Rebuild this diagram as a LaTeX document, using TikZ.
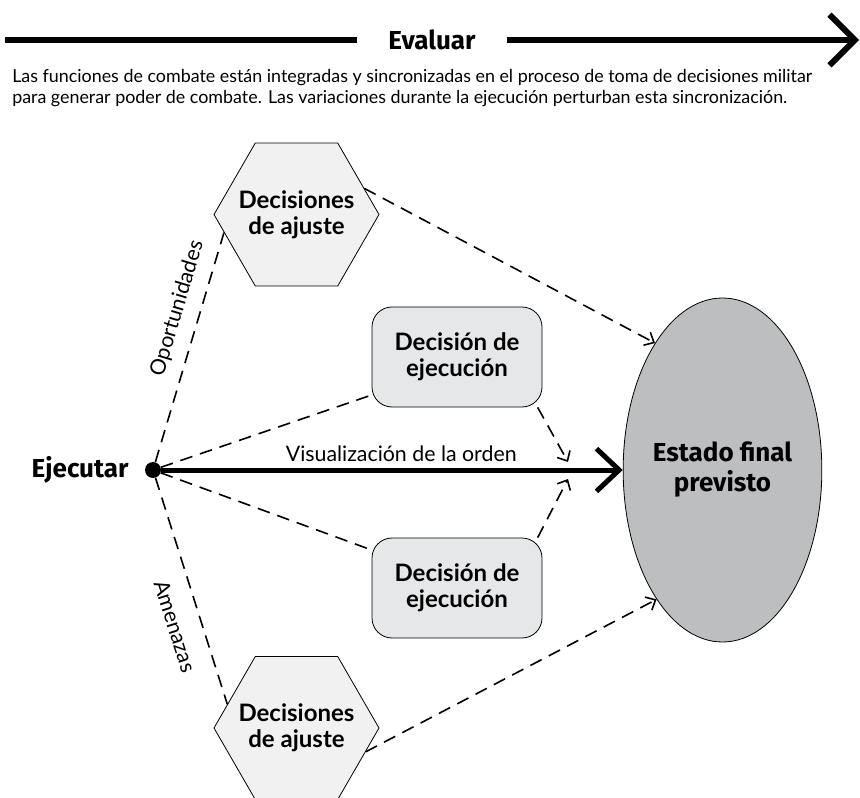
\documentclass[tikz,border=0pt]{standalone}
\usepackage{fontspec}
\setmainfont{Lato}
\newfontfamily\headfont{Fira Sans}
\usetikzlibrary{arrows.meta,positioning,calc,shapes.geometric}
\definecolor{hexgray}{HTML}{F1F1F2}
\definecolor{boxgray}{HTML}{E6E7E8}
\definecolor{goalgray}{HTML}{BCBEC0}
\tikzset{
  hexa/.style={regular polygon,regular polygon sides=6,minimum size=123.75pt,inner sep=0pt,draw=black,line width=0.6pt,fill=hexgray},
  hextxt/.style={align=center,font=\fontsize{18}{19.5}\selectfont\bfseries},
  exe/.style={draw=black,fill=boxgray,rounded corners=15pt,line width=0.6pt,minimum width=127.5pt,minimum height=75pt,align=center,inner sep=0pt,font=\fontsize{18}{19.5}\selectfont\bfseries},
  goalell/.style={ellipse,draw=black,fill=goalgray,line width=0.6pt,minimum width=149pt,minimum height=258pt,inner sep=0pt,align=center,font=\headfont\fontsize{19.5}{22.5}\selectfont\bfseries},
  dot/.style={circle,fill=black,minimum size=12pt,inner sep=0pt},
  hd/.style={font=\headfont\fontsize{19.5}{22.5}\selectfont\bfseries,inner sep=2pt},
  lbl/.style={font=\fontsize{16}{18}\selectfont},
  dsh/.style={dash pattern=on 9.5pt off 6pt,line width=1.2pt},
  darr/.style={dsh,-{Straight Barb[length=6pt,width=11pt]}},
  mainarr/.style={line width=3.75pt,-{Straight Barb[length=17pt,width=32pt]}},
  toparr/.style={line width=4.5pt,-{Straight Barb[length=19pt,width=38pt]}},
}
\begin{document}
\begin{tikzpicture}[x=0.75pt,y=-0.75pt]
  \useasboundingbox (0,0) rectangle (860,798);
  % cabecera
  \coordinate (evalStart) at (5,40);
  \coordinate (evalEnd) at (859,40);
  \node[hd,minimum width=112pt,inner sep=0pt] (evalLbl) at (432,40) {Evaluar};
  \draw[line width=4.5pt] (evalStart) -- (evalLbl);
  \draw[toparr] (evalLbl) -- (evalEnd);
  \node[anchor=north west,align=left,inner sep=0pt,font=\fontsize{13.4}{15.75}\selectfont] (desc) at (12,69)
    {Las funciones de combate están integradas y sincronizadas en el proceso de toma de decisiones militar\\
     para generar poder de combate. Las variaciones durante la ejecución perturban esta sincronización.};
  % nodos
  \node[dot] (exec) at (153,470) {};
  \node[hd,left=10pt of exec] (execLbl) {Ejecutar};
  \node[hexa,label={[hextxt]center:Decisiones\\de ajuste}] (adjTop) at (296.5,214.5) {};
  \node[hexa,label={[hextxt]center:Decisiones\\de ajuste}] (adjBot) at (296.5,728) {};
  \node[exe] (exeTop) at (457,357) {Decisión de\\ejecución};
  \node[exe] (exeBot) at (457,588) {Decisión de\\ejecución};
  \node[goalell] (goal) at (722.5,470) {Estado final\\previsto};
  \coordinate (mergeTop) at (568,462);
  \coordinate (mergeBot) at (568,479);
  % conexiones
  \draw[dsh] (exec) -- node[lbl,sloped,above=6pt,pos=0.64] {Oportunidades} (adjTop.194);
  \draw[dsh] (exec) -- node[lbl,sloped,below=10pt,pos=0.62] {Amenazas} (adjBot.161);
  \draw[dsh] (exec) -- (exeTop.204);
  \draw[dsh] (exec) -- (exeBot.156);
  \draw[darr] (adjTop.21) -- (goal.118);
  \draw[darr] (adjBot.-19) -- (goal.243);
  \draw[darr] (exeTop.-32) -- (mergeTop);
  \draw[darr] (exeBot.32) -- (mergeBot);
  \draw[mainarr] (exec) -- node[lbl,above=1pt,pos=0.52] {Visualización de la orden} (goal);
\end{tikzpicture}
\end{document}
